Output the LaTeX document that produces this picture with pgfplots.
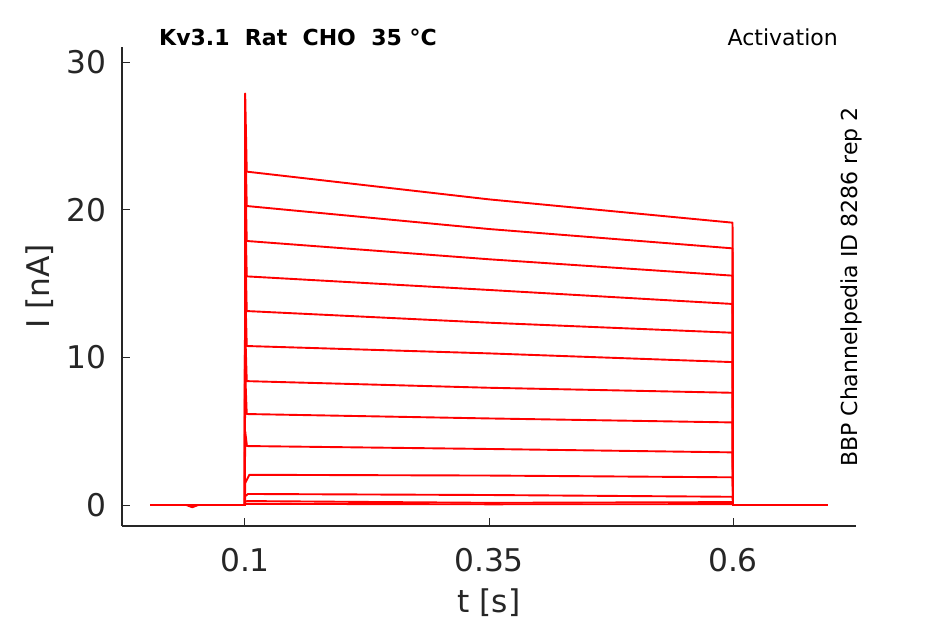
\documentclass[border=0pt]{standalone}
\usepackage{pgfplots}
\pgfplotsset{compat=1.18}
\usepackage{fontspec}
\setmainfont{DejaVu Sans}
\definecolor{axgray}{HTML}{262626}
\definecolor{myred}{RGB}{255,0,0}
\tikzset{tr/.style={draw=myred, solid, mark=none, line width=1.9bp, line join=round}}
\begin{document}
\begin{tikzpicture}[x=1bp,y=1bp]
\path[use as bounding box] (0,0) rectangle (945,624);
\begin{axis}[
  at={(122bp,98bp)}, anchor=south west,
  scale only axis, width=734bp, height=479bp,
  xmin=-0.026, xmax=0.726, ymin=-1.42, ymax=31.05,
  axis x line*=bottom, axis y line*=left,
  axis line style={-, draw=axgray, line width=1.1bp},
  xtick={0.1,0.35,0.6}, xticklabels={0.1,0.35,0.6},
  ytick={0,10,20,30},
  tick align=inside, major tick length=8bp,
  tick style={draw=axgray, line width=1bp},
  /pgf/number format/assume math mode=true,
  ticklabel style={font=\fontsize{31.4}{36}\selectfont, text=axgray, inner sep=0pt},
  xticklabel style={anchor=base, yshift=-46bp},
  yticklabel style={anchor=east, xshift=-15bp},
  xlabel={t [s]}, ylabel={I [nA]},
  label style={font=\fontsize{31.4}{36}\selectfont, text=axgray, inner sep=0pt},
  xlabel style={at={(axis description cs:0.5,-0.1816)}, anchor=base},
  ylabel style={at={(axis description cs:-0.0981,0.5)}, anchor=base},
  clip=false,
]
% trace 1
\addplot[tr] coordinates {(0.003,0) (0.040,0) (0.046,-0.15) (0.052,0) (0.0998,0) (0.1002,27.9) (0.1018,22.6) (0.35,20.72) (0.5995,19.14) (0.6,0) (0.697,0)};
% trace 2
\addplot[tr] coordinates {(0.003,0) (0.0998,0) (0.1002,25.4) (0.1018,20.27) (0.35,18.71) (0.5995,17.4) (0.6,0) (0.697,0)};
% trace 3
\addplot[tr] coordinates {(0.003,0) (0.0998,0) (0.1002,23.0) (0.1018,17.9) (0.35,16.66) (0.5995,15.55) (0.6,0) (0.697,0)};
% trace 4
\addplot[tr] coordinates {(0.003,0) (0.0998,0) (0.1002,20.5) (0.1018,15.5) (0.35,14.58) (0.5995,13.63) (0.6,0) (0.697,0)};
% trace 5
\addplot[tr] coordinates {(0.003,0) (0.0998,0) (0.1002,18.0) (0.1018,13.15) (0.35,12.36) (0.5995,11.68) (0.6,0) (0.697,0)};
% trace 6
\addplot[tr] coordinates {(0.003,0) (0.0998,0) (0.1002,15.0) (0.1018,10.78) (0.35,10.28) (0.5995,9.69) (0.6,0) (0.697,0)};
% trace 7
\addplot[tr] coordinates {(0.003,0) (0.0998,0) (0.1002,12.0) (0.1018,8.4) (0.35,7.95) (0.5995,7.61) (0.6,0) (0.697,0)};
% trace 8
\addplot[tr] coordinates {(0.003,0) (0.0998,0) (0.1002,9.0) (0.1018,6.17) (0.35,5.87) (0.5995,5.6) (0.6,0) (0.697,0)};
% trace 9
\addplot[tr] coordinates {(0.003,0) (0.0998,0) (0.1002,5.0) (0.1020,4.0) (0.35,3.80) (0.5995,3.57) (0.6,0) (0.697,0)};
% trace 10
\addplot[tr] coordinates {(0.003,0) (0.0998,0) (0.1003,1.5) (0.1045,2.05) (0.35,2.0) (0.5995,1.88) (0.6,0) (0.697,0)};
% trace 11
\addplot[tr] coordinates {(0.003,0) (0.0998,0) (0.1003,0.6) (0.1030,0.75) (0.35,0.68) (0.5995,0.56) (0.6,0) (0.697,0)};
% trace 12
\addplot[tr] coordinates {(0.003,0) (0.0998,0) (0.1003,0.25) (0.1030,0.27) (0.35,0.15) (0.5995,0.2) (0.6,0) (0.697,0)};
% trace 13
\addplot[tr] coordinates {(0.003,0) (0.0998,0) (0.1003,0.08) (0.35,0.05) (0.5995,0.06) (0.6,0) (0.697,0)};
\end{axis}
\node[anchor=base west, inner sep=0pt, font=\fontsize{22.1}{26}\selectfont\bfseries] at (159,578) {Kv3.1\ \ Rat\ \ CHO\ \ 35 °C};
\node[anchor=base east, inner sep=0pt, font=\fontsize{22.1}{26}\selectfont] at (838,578) {Activation};
\node[anchor=base west, rotate=90, inner sep=0pt, font=\fontsize{22.1}{26}\selectfont] at (857,157) {BBP Channelpedia ID 8286 rep 2};
\end{tikzpicture}
\end{document}
